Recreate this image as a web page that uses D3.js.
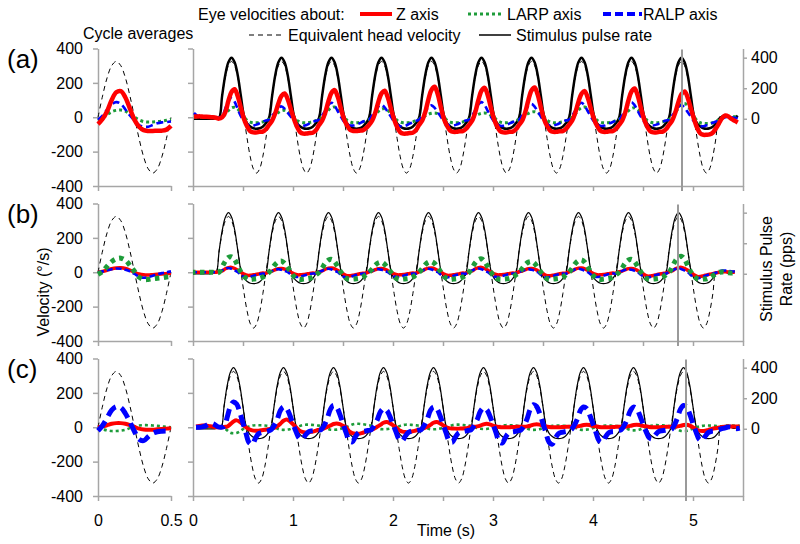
<!DOCTYPE html>
<html><head><meta charset="utf-8">
<script src="https://cdn.jsdelivr.net/npm/d3@7/dist/d3.min.js"></script>
<style>body{margin:0;background:#fff}</style>
</head><body><svg id="chart" width="800" height="544"></svg>
<script>
// ---------- sampling grid (right panels): t = 0.01 + i*0.03125 s ----------
const sampleStart = 0.01, sampleStep = 0.03125;
// cycle averages sampled every 0.03125 s from 0 to 0.5 s
const avgStep = 0.03125;

// ---------- shared stimulus traces ----------
const headVel = [
0,0,0,0,0,0,0,0,
0,124,230,300,325,300,230,124,0,-124,-230,-300,-325,-300,-230,-124,
0,124,230,300,325,300,230,124,0,-124,-230,-300,-325,-300,-230,-124,
0,124,230,300,325,300,230,124,0,-124,-230,-300,-325,-300,-230,-124,
0,124,230,300,325,300,230,124,0,-124,-230,-300,-325,-300,-230,-124,
0,124,230,300,325,300,230,124,0,-124,-230,-300,-325,-300,-230,-124,
0,124,230,300,325,300,230,124,0,-124,-230,-300,-325,-300,-230,-124,
0,124,230,300,325,300,230,124,0,-124,-230,-300,-325,-300,-230,-124,
0,124,230,300,325,300,230,124,0,-124,-230,-300,-325,-300,-230,-124,
0,124,230,300,325,300,230,124,0,-124,-230,-300,-325,-300,-230,-124,
0,124,230,300,325,300,230,124,0,-124,-230,-300,-325,-300,-230,-124,
0,0,0,0,0,0,0];
const pulseRate = [
0,0,0,0,0,0,0,3,
5,150,285,370,400,370,285,150,20,-30,-50,-62,-65,-62,-52,-30,
5,150,285,370,400,370,285,150,20,-30,-50,-62,-65,-62,-52,-30,
5,150,285,370,400,370,285,150,20,-30,-50,-62,-65,-62,-52,-30,
5,150,285,370,400,370,285,150,20,-30,-50,-62,-65,-62,-52,-30,
5,150,285,370,400,370,285,150,20,-30,-50,-62,-65,-62,-52,-30,
5,150,285,370,400,370,285,150,20,-30,-50,-62,-65,-62,-52,-30,
5,150,285,370,400,370,285,150,20,-30,-50,-62,-65,-62,-52,-30,
5,150,285,370,400,370,285,150,20,-30,-50,-62,-65,-62,-52,-30,
5,150,285,370,400,370,285,150,20,-30,-50,-62,-65,-62,-52,-30,
5,150,285,370,400,370,285,150,20,-30,-50,-62,-65,-62,-52,-30,
0,15,22,12,3,5,20];

// ---------- panel (a) ----------
const zA = [
5,5,5,3,3,2,0,-3,
-8,0,28,95,147,163,122,54,-10,-53,-81,-88,-88,-85,-84,-70,
-45,-20,23,80,124,138,104,46,-10,-57,-87,-95,-95,-92,-90,-76,
-45,-20,27,92,142,158,119,52,-10,-48,-74,-80,-80,-78,-76,-64,
-45,-20,26,89,139,154,116,51,-10,-57,-87,-95,-95,-92,-90,-76,
-45,-20,30,103,159,177,133,58,-10,-51,-78,-85,-85,-82,-81,-68,
-45,-20,29,99,154,171,128,56,-10,-53,-81,-88,-88,-85,-84,-70,
-45,-20,29,100,156,173,130,57,-10,-51,-78,-85,-85,-82,-81,-68,
-45,-20,26,88,137,152,114,50,-10,-51,-78,-85,-85,-82,-81,-68,
-45,-20,28,97,150,167,125,55,-10,-53,-81,-88,-88,-85,-84,-70,
-45,-20,26,87,135,150,113,50,-10,-61,-94,-102,-102,-100,-90,-65,
-35,-5,10,5,-10,-20,-30];
const ralpA = [
25,10,3,0,0,0,0,0,
0,5,50,95,112,90,47,6,-25,-41,-48,-48,-43,-35,-26,-19,
-15,10,28,54,63,50,26,3,-25,-43,-50,-50,-45,-36,-28,-20,
-15,10,38,71,84,67,35,4,-25,-41,-48,-48,-43,-35,-26,-19,
-15,10,33,62,73,58,31,4,-25,-44,-52,-52,-47,-37,-29,-21,
-15,10,31,59,69,55,29,3,-25,-41,-48,-48,-43,-35,-26,-19,
-15,10,40,75,88,70,37,4,-25,-43,-50,-50,-45,-36,-28,-20,
-15,10,35,66,78,62,33,4,-25,-41,-48,-48,-43,-35,-26,-19,
-15,10,38,71,84,67,35,4,-25,-43,-50,-50,-45,-36,-28,-20,
-15,10,40,75,88,70,37,4,-25,-41,-48,-48,-43,-35,-26,-19,
-15,10,32,60,70,56,29,4,-25,-44,-52,-52,-47,-40,-32,-25,
-18,-8,0,3,0,-3,-5];
const larpA = [
0,0,0,0,0,0,0,0,
-3,0,17,39,54,58,48,26,3,-18,-28,-32,-32,-30,-27,-20,
-12,0,12,27,37,40,33,18,2,-18,-28,-32,-32,-30,-27,-20,
-12,0,18,41,56,60,49,27,3,-18,-28,-32,-32,-30,-27,-20,
-12,0,15,34,47,50,41,23,3,-18,-28,-32,-32,-30,-27,-20,
-12,0,8,17,23,25,21,11,1,-18,-28,-32,-32,-30,-27,-20,
-12,0,8,17,23,25,21,11,1,-18,-28,-32,-32,-30,-27,-20,
-12,0,10,22,30,32,26,14,2,-18,-28,-32,-32,-30,-27,-20,
-12,0,18,41,56,60,49,27,3,-18,-28,-32,-32,-30,-27,-20,
-12,0,17,37,51,55,45,25,3,-18,-28,-32,-32,-30,-27,-20,
-12,0,24,54,74,80,66,36,4,-20,-32,-36,-37,-36,-32,-25,
-15,-3,5,5,5,3,0];

// ---------- panel (b) ----------
const zB = [
0,0,0,0,0,0,0,0,
0,3,8,20,27,28,22,11,0,-11,-18,-18,-15,-12,-8,-5,
-5,3,7,15,21,22,18,9,0,-9,-15,-15,-13,-10,-7,-5,
-5,3,8,18,24,25,20,10,0,-12,-20,-20,-17,-13,-9,-6,
-5,3,7,15,21,22,18,9,0,-9,-15,-15,-13,-10,-7,-5,
-5,3,8,18,24,25,20,10,0,-11,-18,-18,-15,-12,-8,-5,
-5,3,8,20,27,28,22,11,0,-9,-15,-15,-13,-10,-7,-5,
-5,3,7,15,21,22,18,9,0,-12,-20,-20,-17,-13,-9,-6,
-5,3,8,18,24,25,20,10,0,-9,-15,-15,-13,-10,-7,-5,
-5,3,7,15,21,22,18,9,0,-13,-22,-22,-19,-14,-10,-7,
-5,3,8,20,27,28,22,11,0,-15,-25,-25,-21,-16,-11,-8,
-3,0,3,3,2,0,0];
const ralpB = [
0,0,0,0,0,0,0,0,
0,3,11,21,25,20,11,0,-15,-27,-30,-27,-21,-15,-11,-8,
-8,3,8,15,18,14,8,0,-14,-25,-28,-25,-20,-14,-10,-7,
-8,3,9,17,20,16,8,0,-15,-27,-30,-27,-21,-15,-11,-8,
-8,3,8,15,18,14,8,0,-14,-25,-28,-25,-20,-14,-10,-7,
-8,3,9,17,20,16,8,0,-15,-27,-30,-27,-21,-15,-11,-8,
-8,3,10,19,22,18,9,0,-14,-25,-28,-25,-20,-14,-10,-7,
-8,3,8,15,18,14,8,0,-15,-27,-30,-27,-21,-15,-11,-8,
-8,3,9,17,20,16,8,0,-14,-25,-28,-25,-20,-14,-10,-7,
-8,3,8,15,18,14,8,0,-15,-27,-30,-27,-21,-15,-11,-8,
-8,3,10,19,22,18,9,0,-18,-32,-35,-32,-25,-18,-12,-9,
-3,5,10,10,8,5,5];
const larpB = [
0,0,0,0,0,0,0,0,
-3,0,32,65,86,90,72,36,0,-25,-38,-42,-40,-38,-35,-28,
-15,0,23,47,62,65,52,26,0,-25,-38,-42,-40,-38,-35,-28,
-15,0,26,54,71,75,60,30,0,-25,-38,-42,-40,-38,-35,-28,
-15,0,20,42,55,58,46,23,0,-25,-38,-42,-40,-38,-35,-28,
-15,0,22,45,59,62,50,25,0,-25,-38,-42,-40,-38,-35,-28,
-15,0,27,56,74,78,62,31,0,-25,-38,-42,-40,-38,-35,-28,
-15,0,22,45,59,62,50,25,0,-25,-38,-42,-40,-38,-35,-28,
-15,0,25,52,68,72,58,29,0,-25,-38,-42,-40,-38,-35,-28,
-15,0,26,54,71,75,60,30,0,-25,-38,-42,-40,-38,-35,-28,
-15,0,32,66,87,92,74,37,0,-25,-38,-42,-40,-38,-30,-20,
-10,0,2,0,-3,-5,-3];

// ---------- panel (c) ----------
const zC = [
5,8,10,10,8,5,2,0,
0,2,4,18,34,40,32,16,0,-12,-18,-20,-20,-18,-15,-11,
-8,-4,5,20,38,45,36,18,0,-18,-27,-30,-30,-27,-22,-16,
-12,-6,2,10,19,22,18,9,0,-23,-34,-38,-38,-34,-28,-21,
-15,-8,3,14,26,30,24,12,0,-17,-25,-28,-28,-25,-21,-15,
-11,-5,3,14,26,30,24,12,0,-5,-7,-8,-8,-7,-6,-4,
3,3,5,10,17,20,17,10,5,2,0,0,0,1,2,3,
3,3,5,9,15,18,15,9,5,2,0,0,0,1,2,3,
3,3,5,8,13,15,13,8,5,2,0,0,0,1,2,3,
3,3,5,8,13,15,13,8,5,2,0,0,0,1,2,3,
3,3,5,8,13,15,10,0,-12,-20,-22,-20,-15,-10,-6,-3,
0,3,5,5,5,5,5];
const ralpC = [
0,0,2,8,18,22,15,3,
0,5,59,121,147,135,88,26,-35,-90,-100,-65,-38,-30,-27,-22,
-15,10,47,97,118,109,71,21,-25,-63,-70,-46,-27,-21,-19,-15,
-15,10,51,104,127,117,76,23,-30,-77,-85,-55,-32,-26,-23,-19,
-15,10,43,89,108,99,65,19,-27,-70,-78,-51,-30,-23,-21,-17,
-15,10,47,97,118,109,71,21,-31,-79,-88,-57,-33,-26,-24,-19,
-15,10,45,92,112,103,67,20,-32,-83,-92,-60,-35,-28,-25,-20,
-15,10,52,107,131,121,79,24,-34,-88,-98,-64,-37,-29,-26,-22,
-15,10,47,97,118,109,71,21,-31,-79,-88,-57,-33,-26,-24,-19,
-15,10,47,96,117,108,70,21,-24,-61,-68,-44,-26,-20,-18,-15,
-15,10,51,104,127,117,76,23,-27,-70,-78,-51,-30,-23,-21,-17,
-10,-5,0,2,-5,-8,-5];
const larpC = [
0,0,0,0,0,0,0,0,
0,-5,-18,-32,-35,-33,-25,-11,0,5,10,12,12,11,10,8,
6,0,-8,-14,-15,-14,-11,-5,0,6,12,15,15,14,12,10,
8,0,-8,-14,-15,-14,-11,-5,0,8,16,20,20,18,16,13,
10,0,-6,-11,-12,-11,-8,-4,0,6,12,15,15,14,12,10,
8,0,-6,-11,-12,-11,-8,-4,0,6,12,15,15,14,12,10,
8,0,-5,-9,-10,-10,-7,-3,0,5,10,12,12,11,10,8,
6,0,-8,-14,-15,-14,-11,-5,0,4,8,10,10,9,8,7,
5,0,-8,-14,-15,-14,-11,-5,0,4,8,10,10,9,8,7,
5,0,-9,-16,-18,-17,-13,-5,0,5,10,12,12,11,10,8,
5,0,-11,-20,-22,-21,-15,-7,0,4,8,10,10,9,8,7,
5,8,10,10,10,8,8];

// ---------- cycle averages (0 .. 0.5 s) ----------
const headAvg  = [0,124,230,300,325,300,230,124,0,-124,-230,-300,-325,-300,-230,-124,0];
const zAvgA    = [-40,-10,35,100,145,152,115,50,-15,-55,-75,-80,-80,-78,-78,-72,-50];
const ralpAvgA = [-15,10,45,75,88,78,45,10,-20,-45,-55,-55,-45,-35,-30,-28,-25];
const larpAvgA = [-20,-5,15,32,40,42,35,18,0,-15,-25,-28,-27,-25,-22,-18,-12];
const zAvgB    = [0,5,12,20,25,26,22,12,0,-10,-15,-16,-14,-12,-10,-8,-6];
const ralpAvgB = [0,5,12,18,22,20,14,5,-10,-25,-32,-28,-20,-12,-5,0,5];
const larpAvgB = [-12,5,35,62,78,82,70,40,5,-28,-42,-42,-38,-35,-32,-28,-25];
const zAvgC    = [0,5,12,20,24,24,20,12,2,-8,-13,-15,-14,-12,-10,-8,-6];
const ralpAvgC = [-20,10,55,100,120,115,80,30,-25,-70,-78,-55,-35,-26,-23,-22,-22];
const larpAvgC = [-5,-12,-18,-22,-22,-20,-15,-5,3,10,12,12,10,8,5,3,0];

// ---------- axes / labels ----------
const panelLabels = ["(a)","(b)","(c)"];
const panelTimeShift = [0, -0.03, 0.02];   // small per-panel alignment (s)
const markerTimes = [4.89, 4.85, 4.93];      // grey vertical marker (s)
const yTicks = [-400,-200,0,200,400];
const rightTicks = [0,200,400];
const xTicksRight = [0,0.5,1,1.5,2,2.5,3,3.5,4,4.5,5,5.5];
const xTicksLeft = [0,0.5];

// ---------- drawing ----------
const FONT = '"Liberation Sans", Arial, Helvetica, sans-serif';
const GRAY = '#a6a6a6';
const RED = '#ff0000', GREEN = '#1e9c3a', BLUE = '#0000ff';
const svg = d3.select('#chart');
const H = 137.5;
const tops = [48.5, 203.5, 358.5];
const xL = d3.scaleLinear().domain([0,0.5]).range([98,171]);
const xR = d3.scaleLinear().domain([0,5.5]).range([193,743]);

const panels = [
  {z:zA, ralp:ralpA, larp:larpA, zAvg:zAvgA, ralpAvg:ralpAvgA, larpAvg:larpAvgA,
   sty:{z:{w:4.5}, larp:{w:3,d:'3,3'}, ralp:{w:2.6,d:'7,4'}, pulse:2.5},
   order:['larp','ralp','z'], rightLabels:true},
  {z:zB, ralp:ralpB, larp:larpB, zAvg:zAvgB, ralpAvg:ralpAvgB, larpAvg:larpAvgB,
   sty:{z:{w:3.5}, larp:{w:5,d:'4.5,4.5'}, ralp:{w:2.6,d:'6,3'}, pulse:1.2},
   order:['z','ralp','larp'], rightLabels:false},
  {z:zC, ralp:ralpC, larp:larpC, zAvg:zAvgC, ralpAvg:ralpAvgC, larpAvg:larpAvgC,
   sty:{z:{w:4}, larp:{w:2.6,d:'3,3'}, ralp:{w:5,d:'12,6'}, pulse:1.2},
   order:['larp','z','ralp'], rightLabels:true}
];
const colorOf = {z:RED, larp:GREEN, ralp:BLUE};

function styleAxis(g){
  g.selectAll('path.domain').attr('stroke',GRAY).attr('stroke-width',1.5);
  g.selectAll('.tick line').attr('stroke',GRAY).attr('stroke-width',1.5);
  g.selectAll('text').attr('font-size',16).attr('font-family',FONT).attr('fill','#000');
}
const fmt = d => String(d);

panels.forEach((p, pi) => {
  const top = tops[pi], bot = top + H;
  const yL = d3.scaleLinear().domain([-400,400]).range([bot, top]);
  const yR = d3.scaleLinear().domain([-440,460]).range([bot, top]);
  const shift = panelTimeShift[pi];

  // clip for right plot
  svg.append('clipPath').attr('id','clip'+pi).append('rect')
     .attr('x',193).attr('y',top-20).attr('width',550).attr('height',H+40);

  // ---- left (cycle average) panel axes
  const gyl = svg.append('g').attr('transform','translate(98,0)')
    .call(d3.axisLeft(yL).tickValues(yTicks).tickSize(5).tickSizeOuter(0).tickPadding(10).tickFormat(fmt));
  styleAxis(gyl);
  const gxl = svg.append('g').attr('transform',`translate(0,${bot})`)
    .call(d3.axisBottom(xL).tickValues(xTicksLeft).tickSize(5).tickSizeOuter(0).tickPadding(14)
      .tickFormat(pi===2 ? fmt : () => ''));
  styleAxis(gxl);

  // ---- right panel axes
  const gyr = svg.append('g').attr('transform','translate(193,0)')
    .call(d3.axisLeft(yL).tickValues(yTicks).tickSize(5).tickSizeOuter(0).tickFormat(() => ''));
  styleAxis(gyr);
  const gxr = svg.append('g').attr('transform',`translate(0,${bot})`)
    .call(d3.axisBottom(xR).tickValues(xTicksRight).tickSize(5).tickSizeOuter(0).tickPadding(14)
      .tickFormat(pi===2 ? (d => Number.isInteger(d) ? String(d) : '') : () => ''));
  styleAxis(gxr);
  const grr = svg.append('g').attr('transform','translate(743,0)')
    .call(d3.axisRight(yR).tickValues(rightTicks).tickSize(4).tickSizeOuter(0).tickPadding(4)
      .tickFormat(p.rightLabels ? fmt : () => ''));
  styleAxis(grr);

  // ---- cycle averages
  const avgT = i => i*avgStep;
  const lineAvg = d3.line().x((d,i)=>xL(avgT(i))).y(d=>yL(d)).curve(d3.curveCatmullRom.alpha(0.5));
  svg.append('path').attr('d',lineAvg(headAvg)).attr('fill','none')
     .attr('stroke','#000').attr('stroke-width',1).attr('stroke-dasharray','5,4');
  p.order.forEach(k => {
    const s = p.sty[k];
    svg.append('path').attr('d',lineAvg(p[k+'Avg'])).attr('fill','none')
      .attr('stroke',colorOf[k]).attr('stroke-width',s.w)
      .attr('stroke-dasharray',s.d || null).attr('stroke-linejoin','round');
  });

  // ---- time series
  const tt = i => sampleStart + i*sampleStep + shift;
  const lineL = d3.line().x((d,i)=>xR(tt(i))).y(d=>yL(d)).curve(d3.curveCatmullRom.alpha(0.5));
  const lineRt = d3.line().x((d,i)=>xR(tt(i))).y(d=>yR(d)).curve(d3.curveCatmullRom.alpha(0.5));
  const gp = svg.append('g').attr('clip-path',`url(#clip${pi})`);
  gp.append('path').attr('d',lineL(headVel)).attr('fill','none')
    .attr('stroke','#000').attr('stroke-width',1).attr('stroke-dasharray','5,4');
  gp.append('path').attr('d',lineRt(pulseRate)).attr('fill','none')
    .attr('stroke','#000').attr('stroke-width',p.sty.pulse).attr('stroke-linejoin','round');
  p.order.forEach(k => {
    const s = p.sty[k];
    gp.append('path').attr('d',lineL(p[k])).attr('fill','none')
      .attr('stroke',colorOf[k]).attr('stroke-width',s.w)
      .attr('stroke-dasharray',s.d || null).attr('stroke-linejoin','round');
  });

  // grey marker line
  svg.append('line').attr('x1',xR(markerTimes[pi])).attr('x2',xR(markerTimes[pi]))
    .attr('y1',top+1).attr('y2',bot+5).attr('stroke','#9a9a9a').attr('stroke-width',2);

  // panel label
  svg.append('text').attr('x',7).attr('y',top+19).text(panelLabels[pi])
    .attr('font-size',26).attr('font-family',FONT);
});

// ---------- titles / legend ----------
function txt(x,y,s,size,anchor){
  return svg.append('text').attr('x',x).attr('y',y).text(s)
    .attr('font-size',size||16).attr('font-family',FONT).attr('fill','#000')
    .attr('text-anchor',anchor||'start');
}
txt(83,39,'Cycle averages');
txt(198,20,'Eye velocities about:');
function legLine(x1,x2,y,color,w,dash){
  svg.append('line').attr('x1',x1).attr('x2',x2).attr('y1',y).attr('y2',y)
    .attr('stroke',color).attr('stroke-width',w).attr('stroke-dasharray',dash||null);
}
legLine(360,392,14,RED,4);            txt(396,20,'Z axis');
legLine(468,501,14,GREEN,3,'3,3');    txt(507,20,'LARP axis');
legLine(603,642,14,BLUE,4,'8,4');     txt(643,20,'RALP axis');
legLine(249,284,35,'#000',1.2,'5,4'); txt(288,41,'Equivalent head velocity');
legLine(479,511,35,'#000',1.5);       txt(516,41,'Stimulus pulse rate');

// axis titles
svg.append('text').attr('transform','translate(43,292) rotate(-90)')
  .attr('text-anchor','middle').attr('dy','0.35em')
  .attr('font-size',16).attr('font-family',FONT).text('Velocity (°/s)');
const rt = svg.append('text').attr('transform','translate(766,269) rotate(-90)')
  .attr('text-anchor','middle').attr('font-size',16).attr('font-family',FONT);
rt.append('tspan').attr('x',0).attr('dy','0.35em').text('Stimulus Pulse');
rt.append('tspan').attr('x',0).attr('dy','1.3em').text('Rate (pps)');
txt(446,536,'Time (s)',16,'middle');
</script></body></html>
